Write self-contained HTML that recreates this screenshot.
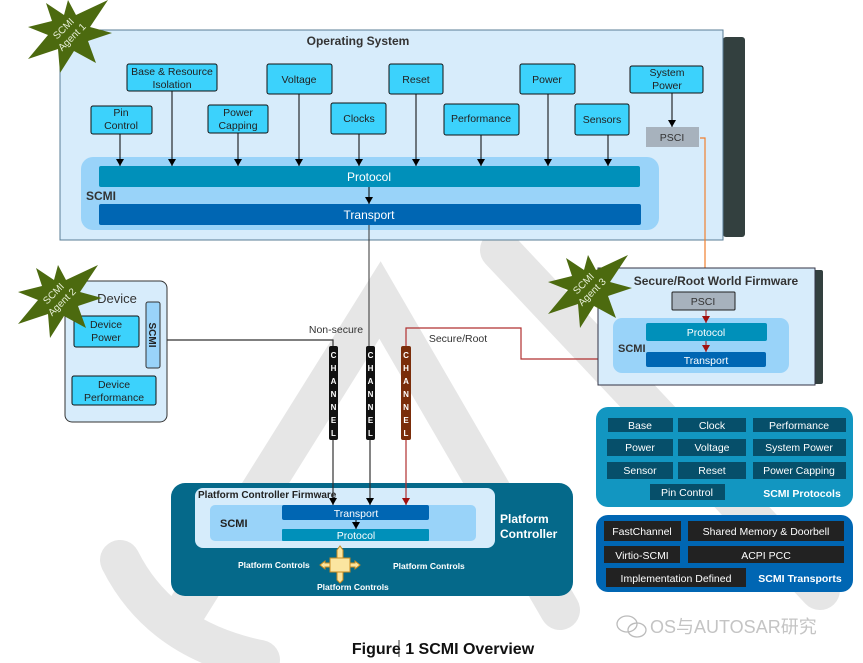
<!DOCTYPE html>
<html><head><meta charset="utf-8"><style>
html,body{margin:0;padding:0;background:#fff;}
svg{display:block;font-family:"Liberation Sans","Noto Sans CJK SC",sans-serif;}
</style></head><body>
<svg width="863" height="663" viewBox="0 0 863 663" xmlns="http://www.w3.org/2000/svg">
<defs>
<marker id="a" markerWidth="8" markerHeight="8" refX="7" refY="4" orient="auto" markerUnits="userSpaceOnUse"><path d="M0,0 L7,4 L0,8 z" fill="#000"/></marker>
<marker id="ar" markerWidth="8" markerHeight="8" refX="7" refY="4" orient="auto" markerUnits="userSpaceOnUse"><path d="M0,0 L7,4 L0,8 z" fill="#a01010"/></marker>
<marker id="ao" markerWidth="8" markerHeight="8" refX="7" refY="4" orient="auto" markerUnits="userSpaceOnUse"><path d="M0,0 L7,4 L0,8 z" fill="#f08030"/></marker>
</defs>
<g stroke="#e6e6e6" stroke-width="40" fill="none" stroke-linecap="round">
<path d="M500 250 L820 590"/>
<path d="M180 620 L380 300 L560 610"/>
<path d="M120 560 Q160 640 260 660"/>
</g>
<rect x="723" y="37" width="22" height="200" rx="3" fill="#33403f"/>
<rect x="60" y="30" width="663" height="210" fill="#d7ecfb" stroke="#5a7d94"/>
<text x="358" y="45" font-size="12" font-weight="bold" text-anchor="middle" fill="#333">Operating System</text>
<rect x="81" y="157" width="578" height="73" rx="12" fill="#99d3f9"/>
<rect x="99" y="166" width="541" height="21" rx="2" fill="#0090ba"/>
<text x="369" y="181" font-size="12" fill="#fff" text-anchor="middle">Protocol</text>
<rect x="99" y="204" width="542" height="21" rx="2" fill="#0066b3"/>
<text x="369" y="219" font-size="12" fill="#fff" text-anchor="middle">Transport</text>
<text x="86" y="200" font-size="12" font-weight="bold" fill="#333">SCMI</text>
<g stroke="#000" stroke-width="1" marker-end="url(#a)">
<line x1="120" y1="134" x2="120" y2="166"/>
<line x1="172" y1="91" x2="172" y2="166"/>
<line x1="238" y1="133" x2="238" y2="166"/>
<line x1="299" y1="94" x2="299" y2="166"/>
<line x1="359" y1="134" x2="359" y2="166"/>
<line x1="416" y1="94" x2="416" y2="166"/>
<line x1="481" y1="135" x2="481" y2="166"/>
<line x1="548" y1="94" x2="548" y2="166"/>
<line x1="608" y1="135" x2="608" y2="166"/>
<line x1="672" y1="93" x2="672" y2="127"/>
<line x1="369" y1="187" x2="369" y2="204"/>
</g>
<g fill="#3cd2fc" stroke="#111" stroke-width="1">
<rect x="127" y="64" width="90" height="27" rx="2"/>
<rect x="267" y="64" width="65" height="30" rx="2"/>
<rect x="389" y="64" width="54" height="30" rx="2"/>
<rect x="520" y="64" width="55" height="30" rx="2"/>
<rect x="630" y="66" width="73" height="27" rx="2"/>
<rect x="91" y="106" width="61" height="28" rx="2"/>
<rect x="208" y="105" width="60" height="28" rx="2"/>
<rect x="331" y="103" width="55" height="31" rx="2"/>
<rect x="444" y="104" width="75" height="31" rx="2"/>
<rect x="575" y="104" width="54" height="31" rx="2"/>
</g>
<g font-size="10.5" fill="#222" text-anchor="middle">
<text x="172" y="75">Base &amp; Resource</text><text x="172" y="88">Isolation</text>
<text x="299" y="83">Voltage</text>
<text x="416" y="83">Reset</text>
<text x="547" y="83">Power</text>
<text x="667" y="76">System</text><text x="667" y="89">Power</text>
<text x="121" y="116">Pin</text><text x="121" y="129">Control</text>
<text x="238" y="116">Power</text><text x="238" y="129">Capping</text>
<text x="359" y="122">Clocks</text>
<text x="481" y="122">Performance</text>
<text x="602" y="123">Sensors</text>
</g>
<rect x="646" y="127" width="53" height="20" fill="#a7b2bd"/>
<text x="672" y="141" font-size="10.5" fill="#333" text-anchor="middle">PSCI</text>
<g transform="translate(68,33)">
<polygon points="0,-33 8,-18 40,-33 22,-6 44,0 20,8 28,30 6,18 -8,40 -10,16 -40,26 -20,2 -40,-6 -16,-12 -22,-30 -4,-18" fill="#4c6a0f"/>
<text transform="rotate(-45)" font-size="10" fill="#e8f0d8" text-anchor="middle"><tspan x="0" y="-3">SCMI</tspan><tspan x="0" y="9">Agent 1</tspan></text>
</g>
<line x1="369" y1="225" x2="369" y2="346" stroke="#333"/>
<polyline points="700,138 705,138 705,292" fill="none" stroke="#f08030" stroke-width="1.2" marker-end="url(#ao)"/>
<polyline points="160,340 333,340 333,346" fill="none" stroke="#333" stroke-width="1.2"/>
<polyline points="406,346 406,328 521,328 521,359 646,359" fill="none" stroke="#b03030" stroke-width="1.2"/>
<rect x="65" y="281" width="102" height="141" rx="7" fill="#d7ecfb" stroke="#333"/>
<text x="117" y="303" font-size="13" fill="#333" text-anchor="middle">Device</text>
<rect x="74" y="316" width="65" height="31" rx="2" fill="#3cd2fc" stroke="#111"/>
<text x="106" y="328" font-size="10.5" fill="#222" text-anchor="middle">Device</text><text x="106" y="341" font-size="10.5" fill="#222" text-anchor="middle">Power</text>
<rect x="146" y="302" width="14" height="66" rx="2" fill="#99d3f9" stroke="#333"/>
<text transform="translate(149,335) rotate(90)" font-size="10" font-weight="bold" fill="#222" text-anchor="middle">SCMI</text>
<rect x="72" y="376" width="84" height="29" rx="2" fill="#3cd2fc" stroke="#111"/>
<text x="114" y="388" font-size="10.5" fill="#222" text-anchor="middle">Device</text><text x="114" y="401" font-size="10.5" fill="#222" text-anchor="middle">Performance</text>
<g transform="translate(58,298)">
<polygon points="0,-33 8,-18 40,-33 22,-6 44,0 20,8 28,30 6,18 -8,40 -10,16 -40,26 -20,2 -40,-6 -16,-12 -22,-30 -4,-18" fill="#4c6a0f"/>
<text transform="rotate(-45)" font-size="10" fill="#e8f0d8" text-anchor="middle"><tspan x="0" y="-3">SCMI</tspan><tspan x="0" y="9">Agent 2</tspan></text>
</g>
<text x="336" y="333" font-size="10.5" fill="#333" text-anchor="middle">Non-secure</text>
<text x="458" y="342" font-size="10.5" fill="#333" text-anchor="middle">Secure/Root</text>
<rect x="329" y="346" width="9" height="94" rx="2" fill="#111"/>
<rect x="366" y="346" width="9" height="94" rx="2" fill="#111"/>
<rect x="401" y="346" width="10" height="94" rx="2" fill="#7a2d0a"/>
<g font-size="8" fill="#fff" text-anchor="middle" font-weight="bold">
<text x="333.5" y="358">C</text><text x="333.5" y="371">H</text><text x="333.5" y="384">A</text><text x="333.5" y="397">N</text><text x="333.5" y="410">N</text><text x="333.5" y="423">E</text><text x="333.5" y="436">L</text>
<text x="370.5" y="358">C</text><text x="370.5" y="371">H</text><text x="370.5" y="384">A</text><text x="370.5" y="397">N</text><text x="370.5" y="410">N</text><text x="370.5" y="423">E</text><text x="370.5" y="436">L</text>
<text x="406" y="358">C</text><text x="406" y="371">H</text><text x="406" y="384">A</text><text x="406" y="397">N</text><text x="406" y="410">N</text><text x="406" y="423">E</text><text x="406" y="436">L</text>
</g>
<rect x="812" y="270" width="11" height="114" rx="2" fill="#33403f"/>
<rect x="598" y="268" width="217" height="117" fill="#d7ecfb" stroke="#334"/>
<text x="716" y="285" font-size="12" font-weight="bold" fill="#333" text-anchor="middle">Secure/Root World Firmware</text>
<rect x="672" y="292" width="63" height="18" rx="1" fill="#a7b2bd" stroke="#222"/>
<text x="703" y="305" font-size="10.5" fill="#333" text-anchor="middle">PSCI</text>
<rect x="613" y="318" width="176" height="55" rx="9" fill="#99d3f9"/>
<rect x="646" y="323" width="121" height="18" rx="2" fill="#0090ba"/>
<text x="706" y="336" font-size="10.5" fill="#fff" text-anchor="middle">Protocol</text>
<rect x="646" y="352" width="120" height="15" rx="2" fill="#0066b3"/>
<text x="706" y="364" font-size="10.5" fill="#fff" text-anchor="middle">Transport</text>
<text x="618" y="352" font-size="11" font-weight="bold" fill="#333">SCMI</text>
<line x1="706" y1="310" x2="706" y2="323" stroke="#a01010" marker-end="url(#ar)"/>
<line x1="706" y1="341" x2="706" y2="352" stroke="#a01010" marker-end="url(#ar)"/>
<g transform="translate(588,288)">
<polygon points="0,-33 8,-18 40,-33 22,-6 44,0 20,8 28,30 6,18 -8,40 -10,16 -40,26 -20,2 -40,-6 -16,-12 -22,-30 -4,-18" fill="#4c6a0f"/>
<text transform="rotate(-45)" font-size="10" fill="#e8f0d8" text-anchor="middle"><tspan x="0" y="-3">SCMI</tspan><tspan x="0" y="9">Agent 3</tspan></text>
</g>
<rect x="596" y="407" width="257" height="100" rx="12" fill="#1296c1"/>
<g fill="#064f6a">
<rect x="608" y="418" width="65" height="14"/><rect x="678" y="418" width="68" height="14"/><rect x="753" y="418" width="93" height="14"/>
<rect x="607" y="439" width="66" height="17"/><rect x="678" y="439" width="68" height="17"/><rect x="753" y="439" width="93" height="17"/>
<rect x="607" y="462" width="66" height="17"/><rect x="678" y="462" width="68" height="17"/><rect x="753" y="462" width="93" height="17"/>
<rect x="650" y="484" width="75" height="16"/>
</g>
<g font-size="10.5" fill="#fff" text-anchor="middle">
<text x="640" y="429">Base</text><text x="712" y="429">Clock</text><text x="799" y="429">Performance</text>
<text x="640" y="451">Power</text><text x="712" y="451">Voltage</text><text x="799" y="451">System Power</text>
<text x="640" y="474">Sensor</text><text x="712" y="474">Reset</text><text x="799" y="474">Power Capping</text>
<text x="687" y="496">Pin Control</text>
</g>
<text x="802" y="497" font-size="10.5" font-weight="bold" fill="#fff" text-anchor="middle">SCMI Protocols</text>
<rect x="596" y="515" width="257" height="77" rx="12" fill="#0066b3"/>
<g fill="#222">
<rect x="604" y="521" width="77" height="20"/><rect x="688" y="521" width="156" height="20"/>
<rect x="604" y="546" width="76" height="17"/><rect x="688" y="546" width="156" height="17"/>
<rect x="606" y="568" width="140" height="19"/>
</g>
<g font-size="10.5" fill="#fff" text-anchor="middle">
<text x="642" y="535">FastChannel</text><text x="766" y="535">Shared Memory &amp; Doorbell</text>
<text x="642" y="559">Virtio-SCMI</text><text x="766" y="559">ACPI PCC</text>
<text x="676" y="582">Implementation Defined</text>
</g>
<text x="800" y="582" font-size="10.5" font-weight="bold" fill="#fff" text-anchor="middle">SCMI Transports</text>
<rect x="171" y="483" width="402" height="113" rx="14" fill="#05698a"/>
<rect x="195" y="488" width="300" height="60" rx="8" fill="#d6ecfb"/>
<text x="198" y="498" font-size="10" font-weight="bold" fill="#222">Platform Controller Firmware</text>
<rect x="210" y="505" width="266" height="36" rx="5" fill="#99d3f9"/>
<rect x="282" y="505" width="147" height="15" rx="2" fill="#0066b3"/>
<text x="356" y="517" font-size="10.5" fill="#fff" text-anchor="middle">Transport</text>
<rect x="282" y="529" width="147" height="12" rx="1" fill="#0090ba"/>
<text x="356" y="539" font-size="10.5" fill="#fff" text-anchor="middle">Protocol</text>
<line x1="356" y1="520" x2="356" y2="529" stroke="#000" marker-end="url(#a)"/>
<text x="220" y="527" font-size="11" font-weight="bold" fill="#222">SCMI</text>
<text x="500" y="523" font-size="12" font-weight="bold" fill="#fff">Platform</text>
<text x="500" y="538" font-size="12" font-weight="bold" fill="#fff">Controller</text>
<g stroke-width="1.2">
<line x1="333" y1="440" x2="333" y2="505" stroke="#333" marker-end="url(#a)"/>
<line x1="370" y1="440" x2="370" y2="505" stroke="#333" marker-end="url(#a)"/>
<line x1="406" y1="440" x2="406" y2="505" stroke="#b03030" marker-end="url(#ar)"/>
</g>
<g fill="#fbe5a0" stroke="#c88a20" stroke-width="1">
<polygon points="320,565 325,561 325,563 355,563 355,561 360,565 355,569 355,567 325,567 325,569"/>
<polygon points="337,550 340,546 343,550 343,580 340,583 337,580"/>
<rect x="330" y="558" width="20" height="14"/>
</g>
<g font-size="8.5" font-weight="bold" fill="#fff">
<text x="238" y="568">Platform Controls</text>
<text x="393" y="569">Platform Controls</text>
<text x="317" y="590">Platform Controls</text>
</g>
<g fill="none" stroke="#bbb" stroke-width="1.3">
<ellipse cx="627" cy="624" rx="10" ry="8"/><ellipse cx="637" cy="630" rx="9" ry="7"/>
</g>
<text x="650" y="633" font-size="18" fill="#c4c4c4">OS与AUTOSAR研究</text>
<text x="443" y="654" font-size="16" font-weight="bold" fill="#111" text-anchor="middle">Figure 1 SCMI Overview</text>
<line x1="399" y1="640" x2="399" y2="657" stroke="#333" stroke-width="1"/>
</svg>
</body></html>
